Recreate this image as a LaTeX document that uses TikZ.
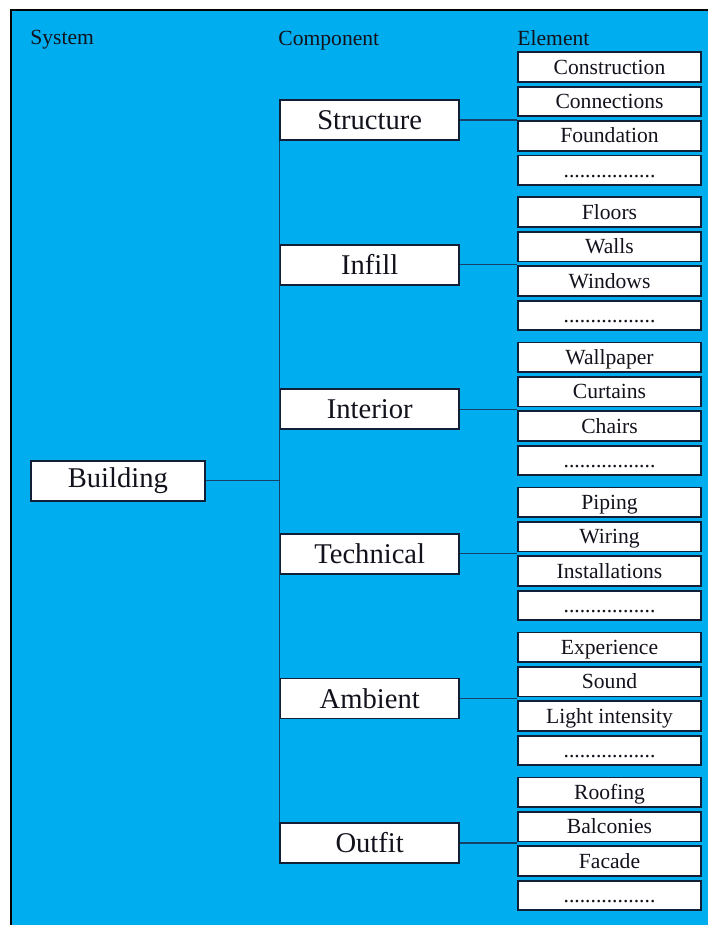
\documentclass[tikz,border=0pt]{standalone}
\usepackage{fontspec}
\setmainfont{Liberation Serif}

\definecolor{skyblue}{RGB}{0,174,239}
\definecolor{boxline}{RGB}{18,32,55}
\definecolor{linkline}{RGB}{22,66,104}
\definecolor{inkblack}{RGB}{18,18,28}

\begin{document}
\begin{tikzpicture}[
    x=0.5pt, y=-0.5pt,
    header/.style={
        anchor=base west,
        inner sep=0pt,
        text=inkblack,
        font=\fontsize{10.8}{13}\selectfont
    },
    component/.style={
        rectangle,
        minimum width=89.6pt,
        minimum height=20pt,
        draw=boxline,
        line width=0.9pt,
        fill=white,
        text=inkblack,
        font=\fontsize{14.3}{17}\selectfont
    },
    element/.style={
        rectangle,
        minimum width=91.2pt,
        minimum height=14.8pt,
        text height=8.5pt,
        text depth=1.5pt,
        inner ysep=0pt,
        draw=boxline,
        line width=0.9pt,
        fill=white,
        text=inkblack,
        font=\fontsize{10.8}{13}\selectfont
    },
    link/.style={draw=linkline, line width=0.6pt}
]

\useasboundingbox (0,0) rectangle (708,925);

% background panel, frame only on top and left
\fill[skyblue] (11,10) rectangle (708,925);
\draw[black, line width=1.2pt] (11,925) -- (11,10) -- (708,10);

% column headings
\node[header] (system) at (30,45) {System};
\node[header] (comphead) at (278,46) {Component};
\node[header] (elemhead) at (517,46) {Element};

% system
\node[component, minimum width=87.2pt] (building) at (117.9,480.7) {Building};

% components
\node[component] (structure) at (369.7,120) {Structure};
\node[component] (infill) at (369.7,264.6) {Infill};
\node[component] (interior) at (369.7,409.2) {Interior};
\node[component] (technical) at (369.7,553.8) {Technical};
\node[component] (ambient) at (369.7,698.4) {Ambient};
\node[component] (outfit) at (369.7,843) {Outfit};

% elements
\node[element] (construction) at (609.5,67.2) {Construction};
\node[element] (connections) at (609.5,101.6) {Connections};
\node[element] (foundation) at (609.5,136.0) {Foundation};
\node[element] (structmore) at (609.5,170.4) {.................};

\node[element] (floors) at (609.5,212.2) {Floors};
\node[element] (walls) at (609.5,246.6) {Walls};
\node[element] (windows) at (609.5,281.0) {Windows};
\node[element] (infillmore) at (609.5,315.4) {.................};

\node[element] (wallpaper) at (609.5,357.2) {Wallpaper};
\node[element] (curtains) at (609.5,391.6) {Curtains};
\node[element] (chairs) at (609.5,426.0) {Chairs};
\node[element] (interiormore) at (609.5,460.4) {.................};

\node[element] (piping) at (609.5,502.2) {Piping};
\node[element] (wiring) at (609.5,536.6) {Wiring};
\node[element] (installations) at (609.5,571.0) {Installations};
\node[element] (techmore) at (609.5,605.4) {.................};

\node[element] (experience) at (609.5,647.2) {Experience};
\node[element] (sound) at (609.5,681.6) {Sound};
\node[element] (lightint) at (609.5,716.0) {Light intensity};
\node[element] (ambientmore) at (609.5,750.4) {.................};

\node[element] (roofing) at (609.5,792.2) {Roofing};
\node[element] (balconies) at (609.5,826.6) {Balconies};
\node[element] (facade) at (609.5,861.0) {Facade};
\node[element] (outfitmore) at (609.5,895.4) {.................};

% tree lines
\draw[link] (structure.south west) -- (outfit.north west);
\draw[link] (building.east) -- (building.east -| structure.west);

\draw[link] (structure.east) -- (structure.east -| connections.west);
\draw[link] (infill.east) -- (infill.east -| walls.west);
\draw[link] (interior.east) -- (interior.east -| curtains.west);
\draw[link] (technical.east) -- (technical.east -| wiring.west);
\draw[link] (ambient.east) -- (ambient.east -| sound.west);
\draw[link] (outfit.east) -- (outfit.east -| balconies.west);

\end{tikzpicture}
\end{document}
